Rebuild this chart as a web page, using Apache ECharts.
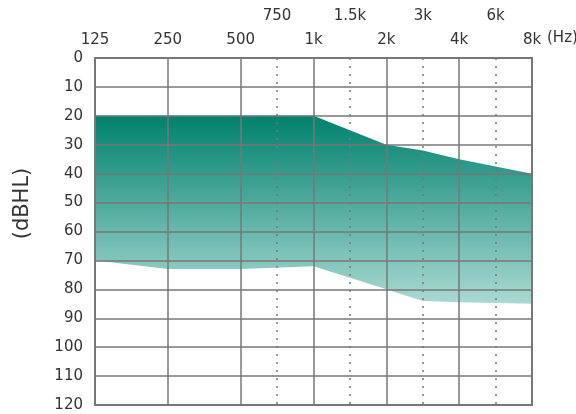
<!DOCTYPE html>
<html><head><meta charset="utf-8">
<script src="https://cdn.jsdelivr.net/npm/echarts@6/dist/echarts.min.js"></script>
<style>html,body{margin:0;padding:0;background:#fff}#c{width:576px;height:414px}</style>
</head><body><div id="c"></div>
<script>
// frequency slots along the x axis (octaves plus half-octave marks)
const slots = ['125','','250','','500','750','1k','1.5k','2k','3k','4k','6k','8k'];
const octaveLabels = ['125','250','500','1k','2k','4k','8k'];
const midLabels = ['750','1.5k','3k','6k'];
// hearing-loss band (dBHL)
const bandFreq = ['125','250','500','1k','2k','3k','4k','8k'];
const upperDB = [20,20,20,20,30,32,35,40];
const lowerDB = [70,73,73,72,80,84,84.5,85];
const yMin = 0, yMax = 120, yStep = 10;

const GRID = '#777';
const FONT = 'DejaVu Sans';
const isOct = (i, v) => octaveLabels.includes(v);
const isMid = (i, v) => midLabels.includes(v);

const chart = echarts.init(document.getElementById('c'), null, {renderer:'canvas'});
chart.setOption({
  animation:false,
  grid:{left:95, right:44, top:58, bottom:9, containLabel:false, outerBoundsMode:'none'},
  xAxis:[
    {type:'category', data:slots, boundaryGap:false, position:'top', z:5,
     name:'(Hz)', nameLocation:'end', nameGap:5,
     nameTextStyle:{fontFamily:FONT, fontSize:15, color:'#333', verticalAlign:'bottom', padding:[0,0,12,0]},
     axisLine:{show:true, lineStyle:{color:GRID, width:2}},
     axisTick:{show:false},
     axisLabel:{interval:isOct, margin:10, fontFamily:FONT, fontSize:15, color:'#333'},
     splitLine:{show:true, interval:isOct, lineStyle:{color:GRID, width:1.5}}},
    {type:'category', data:slots, boundaryGap:false, position:'top', offset:24, z:5,
     axisLine:{show:false}, axisTick:{show:false},
     axisLabel:{interval:isMid, margin:10, fontFamily:FONT, fontSize:15, color:'#333'},
     splitLine:{show:true, interval:isMid, lineStyle:{color:GRID, width:1.5, type:[2,6]}}},
    {type:'category', data:slots, boundaryGap:false, position:'bottom', z:5,
     axisLine:{show:true, lineStyle:{color:GRID, width:2}}, axisTick:{show:false},
     axisLabel:{show:false}, splitLine:{show:false}}
  ],
  yAxis:[
    {type:'value', inverse:true, min:yMin, max:yMax, interval:yStep, z:5,
     name:'(dBHL)', nameLocation:'middle', nameGap:62, nameRotate:90,
     nameTextStyle:{fontFamily:FONT, fontSize:21, color:'#333', padding:[0,0,0,56]},
     axisLine:{show:true, lineStyle:{color:GRID, width:2}}, axisTick:{show:false},
     axisLabel:{margin:12, fontFamily:FONT, fontSize:15, color:'#333'},
     splitLine:{show:true, lineStyle:{color:GRID, width:1.5}}},
    {type:'value', inverse:true, min:yMin, max:yMax, interval:yStep, position:'right', z:5,
     axisLine:{show:true, lineStyle:{color:GRID, width:2}}, axisTick:{show:false},
     axisLabel:{show:false}, splitLine:{show:false}}
  ],
  series:[
    {type:'line', stack:'band', xAxisIndex:0, yAxisIndex:0, symbol:'none',
     lineStyle:{width:0}, areaStyle:{opacity:0},
     data:bandFreq.map((f,i)=>[f, upperDB[i]])},
    {type:'line', stack:'band', xAxisIndex:0, yAxisIndex:0, symbol:'none',
     lineStyle:{width:0},
     areaStyle:{opacity:1, color:new echarts.graphic.LinearGradient(0,0,0,1,[
       {offset:0, color:'#00826d'}, {offset:1, color:'#aad9d2'}])},
     data:bandFreq.map((f,i)=>[f, lowerDB[i]-upperDB[i]])}
  ]
});
</script></body></html>
